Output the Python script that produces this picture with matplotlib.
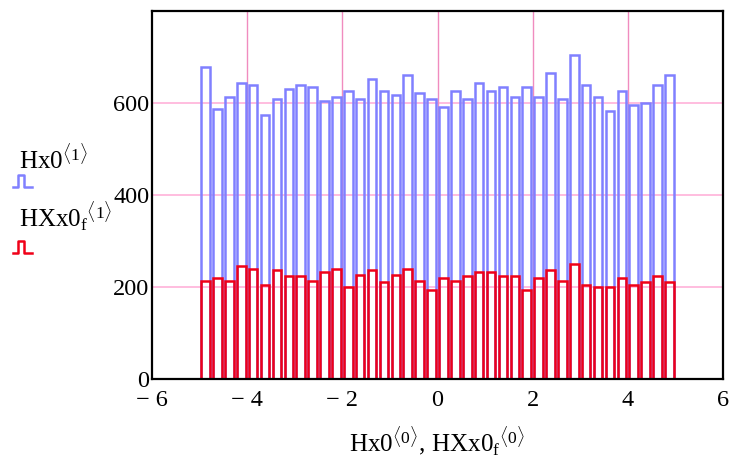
import matplotlib.pyplot as plt
import numpy as np
from matplotlib.lines import Line2D

plt.rcParams['font.family'] = ['Liberation Serif', 'DejaVu Serif']
plt.rcParams['mathtext.fontset'] = 'custom'
plt.rcParams['mathtext.rm'] = 'Liberation Serif'
plt.rcParams['mathtext.it'] = 'Liberation Serif'

# histogram bin centres (40 bins of 0.25 between -5 and 5)
bin_left = -5.0
bin_width = 0.25
n_bins = 40

hx0 = [679, 587, 613, 644, 640, 575, 608, 630, 640, 635,
       604, 613, 626, 608, 652, 626, 617, 661, 621, 608,
       591, 626, 608, 644, 626, 635, 613, 635, 613, 666,
       608, 705, 640, 613, 582, 626, 595, 600, 640, 661]
hxx0f = [214, 219, 214, 245, 240, 205, 236, 223, 223, 214,
         232, 240, 201, 227, 236, 210, 227, 240, 214, 193,
         219, 214, 223, 232, 232, 223, 223, 193, 219, 236,
         214, 249, 205, 201, 201, 219, 205, 210, 223, 210]

xticks = [-6, -4, -2, 0, 2, 4, 6]
xticklabels = ['\u2212 6', '\u2212 4', '\u2212 2', '0', '2', '4', '6']
yticks = [0, 200, 400, 600]

centers = bin_left + bin_width / 2 + bin_width * np.arange(n_bins)

W, H = 737, 467
fig = plt.figure(figsize=(W / 100, H / 100), dpi=100)
ax = fig.add_axes([152 / W, 1 - 379 / H, (723 - 152) / W, (379 - 11) / H])

ax.bar(centers, hx0, width=0.18, fill=False, edgecolor='#8080ff', linewidth=1.8, zorder=2)
ax.bar(centers, hxx0f, width=0.18, fill=False, edgecolor='#f00018', linewidth=1.8, zorder=3)

ax.set_xlim(-6, 6)
ax.set_ylim(0, 800)
ax.set_xticks(xticks)
ax.set_xticklabels(xticklabels)
ax.set_yticks(yticks)

for y in yticks[1:]:
    ax.axhline(y, color='#ffb8dc', linewidth=1.3, zorder=1)
for x in xticks[1:-1]:
    ax.axvline(x, color='#f08cbf', linewidth=1.0, zorder=1)

ax.tick_params(length=0, labelsize=17.5)
ax.tick_params(axis='y', pad=2)
ax.tick_params(axis='x', pad=8)
for s in ax.spines.values():
    s.set_linewidth(1.6)
    s.set_zorder(5)

ax.set_xlabel(r'$\mathrm{Hx0}^{\langle 0\rangle}\mathrm{,\,HXx0}_\mathrm{f}{}^{\langle 0\rangle}$',
              fontsize=18, labelpad=10)

# legend on the left, Mathcad style
fig.text(19 / W, 1 - 170 / H, r'$\mathrm{Hx0}^{\langle 1\rangle}$', fontsize=18, va='baseline')
fig.text(19 / W, 1 - 227 / H, r'$\mathrm{HXx0}_\mathrm{f}{}^{\langle 1\rangle}$', fontsize=18, va='baseline')


def legend_mark(y, color):
    xs = np.array([12.7, 18.3, 18.3, 24, 24, 31.7]) / W
    ys = 1 - np.array([y, y, y - 12, y - 12, y, y]) / H
    fig.add_artist(Line2D(xs, ys, color=color, linewidth=1.8, transform=fig.transFigure))


legend_mark(186.7, '#8080ff')
legend_mark(252.7, '#f00018')

fig.savefig('out.png', dpi=100)
